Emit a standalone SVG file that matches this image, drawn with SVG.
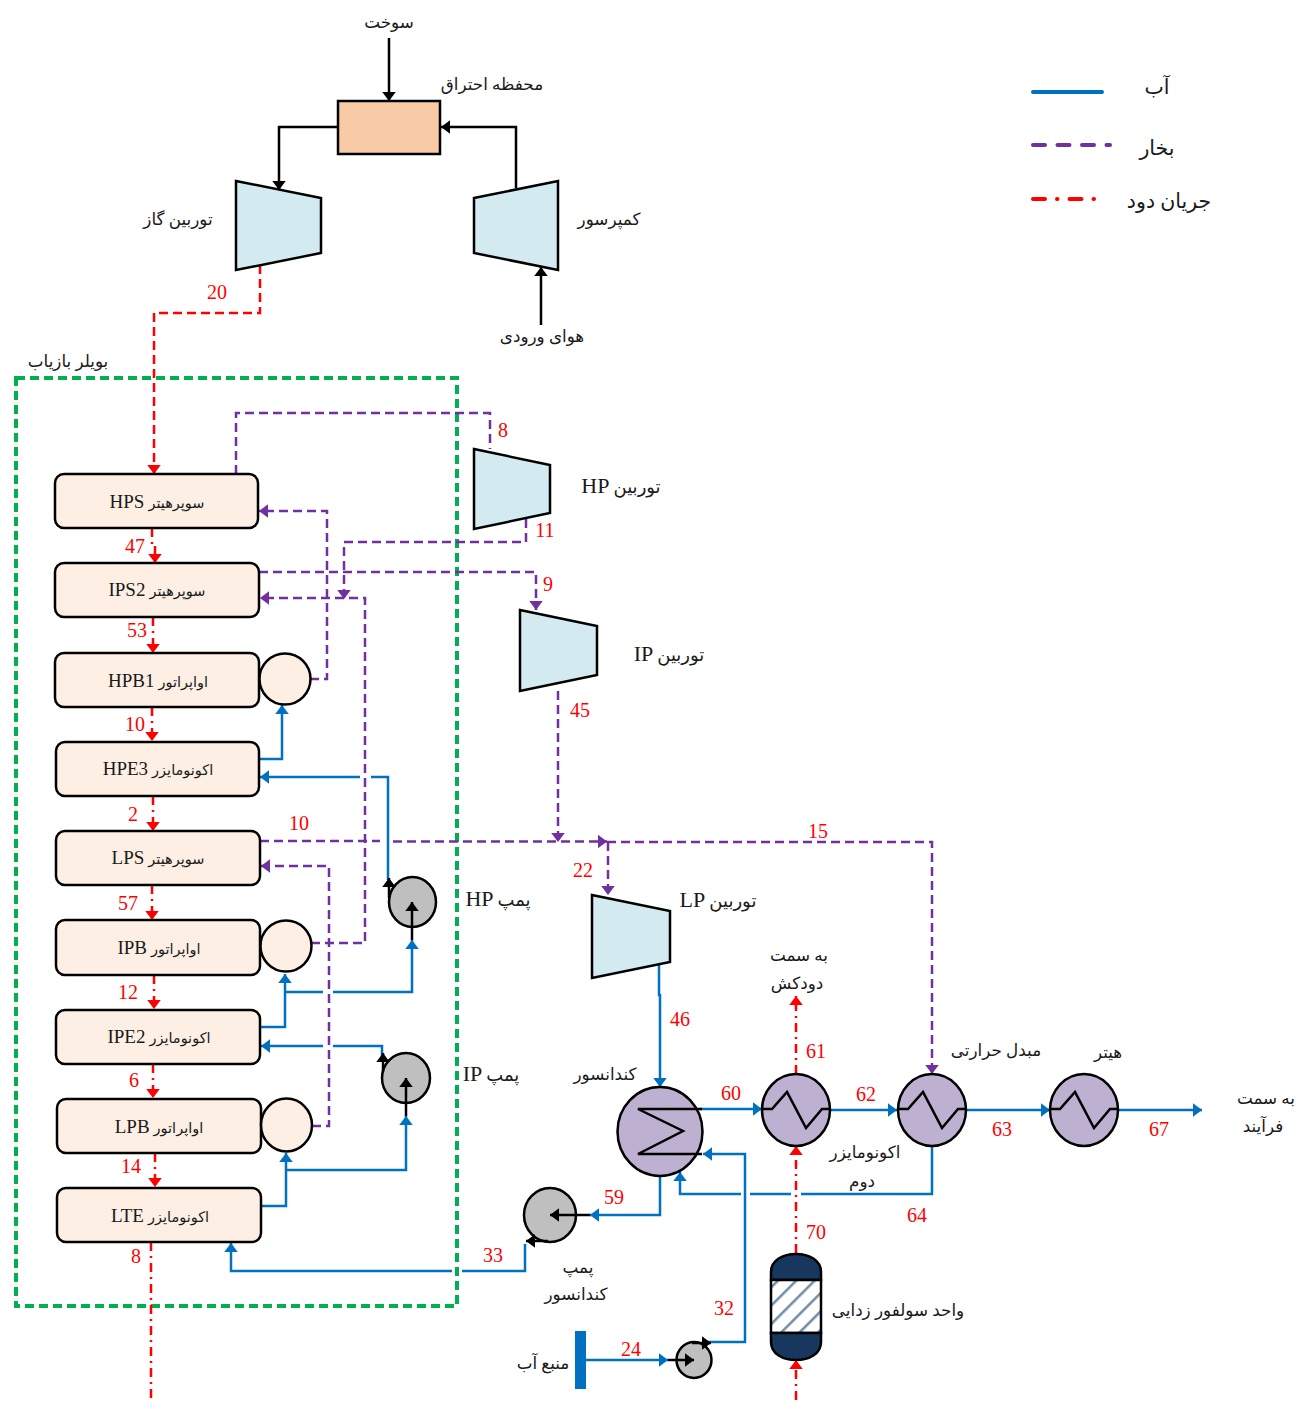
<svg xmlns="http://www.w3.org/2000/svg" width="1298" height="1403" viewBox="0 0 1298 1403">
<style>
text{font-family:"Liberation Serif","DejaVu Sans",serif;fill:#1a1a1a;text-anchor:middle}
.fa{font-size:16.800px}
.fb{font-size:14.500px}
.fc{font-size:18px}
.fl{font-size:20.500px}
.lat{font-size:22px}
.lb{font-size:19px}
.n{font-size:20px;fill:#ff0000}
.box{fill:#FDEFE4;stroke:#000;stroke-width:2.5}
.tur{fill:#D2EAF0;stroke:#000;stroke-width:2.5;stroke-linejoin:miter}
.hx{fill:#BEB0D0;stroke:#000;stroke-width:2.5}
.pump{fill:#BFBFBF;stroke:#000;stroke-width:2.5}
.coil{fill:none;stroke:#000;stroke-width:2.5}
.w{fill:none;stroke:#0070C0;stroke-width:2.5}
.s{fill:none;stroke:#7030A0;stroke-width:2.5;stroke-dasharray:9 5}
.r{fill:none;stroke:#ff0000;stroke-width:2.5;stroke-dasharray:9 5}
.f{fill:none;stroke:#ff0000;stroke-width:2.5;stroke-dasharray:9 5 2 5}
.k{fill:none;stroke:#000;stroke-width:2.5}
.dome{fill:#17375E;stroke:#000;stroke-width:2.5}
</style>
<defs>
<marker id="aw" viewBox="0 0 8 12" refX="8" refY="6" markerWidth="9" markerHeight="14" markerUnits="userSpaceOnUse" orient="auto"><path d="M0 0L8 6L0 12Z" fill="#0070C0"/></marker>
<marker id="as" viewBox="0 0 8 12" refX="8" refY="6" markerWidth="9" markerHeight="14" markerUnits="userSpaceOnUse" orient="auto"><path d="M0 0L8 6L0 12Z" fill="#7030A0"/></marker>
<marker id="ar" viewBox="0 0 8 12" refX="8" refY="6" markerWidth="9" markerHeight="14" markerUnits="userSpaceOnUse" orient="auto"><path d="M0 0L8 6L0 12Z" fill="#ff0000"/></marker>
<marker id="ak" viewBox="0 0 8 12" refX="8" refY="6" markerWidth="9" markerHeight="14" markerUnits="userSpaceOnUse" orient="auto"><path d="M0 0L8 6L0 12Z" fill="#000"/></marker>
<pattern id="hatch" width="13" height="13" patternUnits="userSpaceOnUse" patternTransform="rotate(-45 796 1306)"><rect width="13" height="13" fill="#fff"/><rect y="0" width="13" height="2.500" fill="#6F8CA8"/></pattern>
</defs>

<rect id="boiler-frame" x="16" y="378" width="441" height="928" fill="none" stroke="#00B050" stroke-width="4" stroke-dasharray="9 5"/>
<text class="fa" x="68" y="367">بویلر بازیاب</text>

<g id="connectors">
<path class="k" d="M389 38V101" marker-end="url(#ak)"/>
<path class="k" d="M338 127H279V190" marker-end="url(#ak)"/>
<path class="k" d="M516 188V127H441" marker-end="url(#ak)"/>
<path class="k" d="M541 325V267" marker-end="url(#ak)"/>
<path class="r" d="M260 265V313H154V474" marker-end="url(#ar)"/>
<path class="f" d="M152 528V545H155V563" marker-end="url(#ar)"/>
<path class="f" d="M153 617V653" marker-end="url(#ar)"/>
<path class="f" d="M152 707V741" marker-end="url(#ar)"/>
<path class="f" d="M153 796V831" marker-end="url(#ar)"/>
<path class="f" d="M152 885V920" marker-end="url(#ar)"/>
<path class="f" d="M154 975V1009" marker-end="url(#ar)"/>
<path class="f" d="M153 1064V1098" marker-end="url(#ar)"/>
<path class="f" d="M155 1153V1187" marker-end="url(#ar)"/>
<path class="f" d="M151 1242V1400"/>
<path class="s" d="M236 474V413H490V449"/>
<path class="s" d="M526 519V542H344V599" marker-end="url(#as)"/>
<path class="s" d="M259 572H536V610" marker-end="url(#as)"/>
<path class="s" d="M558 691V842" marker-end="url(#as)"/>
<path class="s" d="M310 679H327V511H259" marker-end="url(#as)"/>
<path class="s" d="M311 943H365V598H260" marker-end="url(#as)"/>
<path class="s" d="M312 1126H329V866H261" marker-end="url(#as)"/>
<path class="s" d="M260 841H380"/>
<path class="s" d="M393 841.500H607" marker-end="url(#as)"/>
<path class="s" d="M607 842H932V1074" marker-end="url(#as)"/>
<path class="s" d="M608 842V895" marker-end="url(#as)"/>
<path class="w" d="M259 759H282V705" marker-end="url(#aw)"/>
<path class="w" d="M388 880V777H371"/>
<path class="w" d="M360 777H260" marker-end="url(#aw)"/>
<path class="w" d="M261 1027H285V974" marker-end="url(#aw)"/>
<path class="w" d="M285 992H323"/>
<path class="w" d="M333 992H412V940" marker-end="url(#aw)"/>
<path class="w" d="M382 1060V1046H333"/>
<path class="w" d="M323 1046H261" marker-end="url(#aw)"/>
<path class="w" d="M261 1206H286V1153" marker-end="url(#aw)"/>
<path class="w" d="M286 1170H406V1116" marker-end="url(#aw)"/>
<path class="w" d="M525 1244V1271H462"/>
<path class="w" d="M452 1271H231V1243" marker-end="url(#aw)"/>
<path class="w" d="M660 1175V1215H590" marker-end="url(#aw)"/>
<path class="w" d="M659 965V995H660V1087" marker-end="url(#aw)"/>
<path class="w" d="M700 1109H762" marker-end="url(#aw)"/>
<path class="w" d="M830 1110H897" marker-end="url(#aw)"/>
<path class="w" d="M966 1110H1050" marker-end="url(#aw)"/>
<path class="w" d="M1118 1110H1202" marker-end="url(#aw)"/>
<path class="w" d="M932 1146V1194H801"/>
<path class="w" d="M791 1194H750"/>
<path class="w" d="M741 1194H680V1172" marker-end="url(#aw)"/>
<path class="w" d="M706 1342H745V1154H703" marker-end="url(#aw)"/>
<path class="w" d="M586 1360H668" marker-end="url(#aw)"/>
<path class="f" d="M796 1074V996" marker-end="url(#ar)"/>
<path class="f" d="M796 1253V1146" marker-end="url(#ar)"/>
<path class="f" d="M796 1400V1360" marker-end="url(#ar)"/>
</g>

<g id="combustor"><rect x="338" y="101" width="102" height="53" fill="#F8CBA6" stroke="#000" stroke-width="2.5"/><text class="fa" x="492" y="90">محفظه احتراق</text></g>
<text class="fa" x="389" y="28">سوخت</text>
<text class="fa" x="542" y="342">هوای ورودی</text>
<g id="gas-turbine"><polygon class="tur" points="236,181 321,198 321,253 236,270"/><text class="fa" x="178" y="225">توربین گاز</text></g>
<g id="compressor"><polygon class="tur" points="474,198 558,181 558,270 474,253"/><text class="fa" x="609" y="225">کمپرسور</text></g>
<g id="hp-turbine"><polygon class="tur" points="474,449 550,465 550,513 474,529"/><text x="621" y="493"><tspan class="lat">HP</tspan> <tspan class="fc">توربین</tspan></text></g>
<g id="ip-turbine"><polygon class="tur" points="520,610 597,626 597,675 520,691"/><text x="669" y="661"><tspan class="lat">IP</tspan> <tspan class="fc">توربین</tspan></text></g>
<g id="lp-turbine"><polygon class="tur" points="592,895 670,911 670,962 592,978"/><text x="718" y="907"><tspan class="lat">LP</tspan> <tspan class="fc">توربین</tspan></text></g>

<g id="hps"><rect class="box" x="55" y="474" width="203" height="54" rx="9"/><text x="157" y="508"><tspan class="lb">HPS</tspan> <tspan class="fb">سوپرهیتر</tspan></text></g>
<g id="ips2"><rect class="box" x="55" y="563" width="204" height="54" rx="9"/><text x="157" y="596"><tspan class="lb">IPS2</tspan> <tspan class="fb">سوپرهیتر</tspan></text></g>
<g id="hpb1"><rect class="box" x="55" y="653" width="204" height="54" rx="9"/><text x="158" y="687"><tspan class="lb">HPB1</tspan> <tspan class="fb">اواپراتور</tspan></text><circle class="box" cx="285" cy="679" r="25.500"/></g>
<g id="hpe3"><rect class="box" x="56" y="742" width="203" height="54" rx="9"/><text x="158" y="775"><tspan class="lb">HPE3</tspan> <tspan class="fb">اکونومایزر</tspan></text></g>
<g id="lps"><rect class="box" x="56" y="831" width="204" height="54" rx="9"/><text x="158" y="864"><tspan class="lb">LPS</tspan> <tspan class="fb">سوپرهیتر</tspan></text></g>
<g id="ipb"><rect class="box" x="56" y="920" width="204" height="55" rx="9"/><text x="159" y="954"><tspan class="lb">IPB</tspan> <tspan class="fb">اواپراتور</tspan></text><circle class="box" cx="286" cy="946" r="25.500"/></g>
<g id="ipe2"><rect class="box" x="56" y="1010" width="204" height="54" rx="9"/><text x="159" y="1043"><tspan class="lb">IPE2</tspan> <tspan class="fb">اکونومایزر</tspan></text></g>
<g id="lpb"><rect class="box" x="57" y="1099" width="204" height="54" rx="9"/><text x="159" y="1133"><tspan class="lb">LPB</tspan> <tspan class="fb">اواپراتور</tspan></text><ellipse class="box" cx="286.500" cy="1125" rx="25.500" ry="26.500"/></g>
<g id="lte"><rect class="box" x="57" y="1188" width="204" height="54" rx="9"/><text x="160" y="1222"><tspan class="lb">LTE</tspan> <tspan class="fb">اکونومایزر</tspan></text></g>

<g id="hp-pump"><ellipse class="pump" cx="412.500" cy="902" rx="23.500" ry="25"/><text x="498" y="906"><tspan class="lat">HP</tspan> <tspan class="fc">پمپ</tspan></text></g>
<g id="ip-pump"><ellipse class="pump" cx="406" cy="1078" rx="24" ry="25"/><text x="491" y="1081"><tspan class="lat">IP</tspan> <tspan class="fc">پمپ</tspan></text></g>
<g id="cond-pump"><ellipse class="pump" cx="550" cy="1215" rx="26" ry="27"/><text class="fa" x="578" y="1273">پمپ</text><text class="fa" x="576" y="1300">کندانسور</text></g>
<g id="source-pump"><ellipse class="pump" cx="694" cy="1360" rx="17.500" ry="18"/></g>
<g id="water-source"><rect x="575" y="1331" width="11" height="58" fill="#0070C0"/><text class="fa" x="543" y="1369">منبع آب</text></g>

<g id="condenser"><ellipse class="hx" cx="660" cy="1131.500" rx="42.500" ry="44.500"/><path class="coil" d="M702 1109H638L683 1131L638 1154H702"/><text class="fa" x="605" y="1080">کندانسور</text></g>
<g id="eco2"><ellipse class="hx" cx="796" cy="1110" rx="34" ry="36"/><path class="coil" d="M762 1109H772L787 1092L806 1128L822 1109H830"/><text class="fa" x="865" y="1158">اکونومایزر</text><text class="fa" x="862" y="1187">دوم</text></g>
<g id="hex"><ellipse class="hx" cx="932" cy="1110" rx="34" ry="36"/><path class="coil" d="M898 1109H908L923 1092L942 1128L958 1109H966"/><text class="fa" x="996" y="1056">مبدل حرارتی</text></g>
<g id="heater"><ellipse class="hx" cx="1084" cy="1110" rx="34" ry="36"/><path class="coil" d="M1050 1109H1060L1075 1092L1094 1128L1110 1109H1118"/><text class="fa" x="1108" y="1058">هیتر</text></g>
<g id="desox"><path class="dome" d="M771 1280V1272C771 1260 783 1254 796 1254C809 1254 821 1260 821 1272V1280Z"/><rect x="771" y="1280" width="50" height="53" fill="url(#hatch)" stroke="#000" stroke-width="2.500"/><path class="dome" d="M771 1333V1342C771 1354 783 1360 796 1360C809 1360 821 1354 821 1342V1333Z"/><text class="fa" x="898" y="1316">واحد سولفور زدایی</text></g>

<g id="pump-arrows">
<path class="k" d="M412 940V902" marker-end="url(#ak)"/>
<path class="k" d="M406 1116V1078" marker-end="url(#ak)"/>
<path class="k" d="M590 1215H550" marker-end="url(#ak)"/>
<path class="k" d="M668 1360H694" marker-end="url(#ak)"/>
<path class="k" d="M389 898V878" marker-end="url(#ak)"/>
<path class="k" d="M383 1072V1053" marker-end="url(#ak)"/>
<path class="k" d="M548 1241H526" marker-end="url(#ak)"/>
<path class="k" d="M692 1343H711" marker-end="url(#ak)"/>
</g>

<text class="fa" x="799" y="961">به سمت</text><text class="fa" x="797" y="989">دودکش</text>
<text class="fa" x="1266" y="1104">به سمت</text><text class="fa" x="1263" y="1132">فرآیند</text>

<g id="legend">
<line x1="1033" y1="92" x2="1102" y2="92" stroke="#0070C0" stroke-width="4" stroke-linecap="round"/>
<line x1="1033" y1="145" x2="1110" y2="145" stroke="#7030A0" stroke-width="4" stroke-linecap="round" stroke-dasharray="12 12.500"/>
<line x1="1033" y1="199" x2="1097" y2="199" stroke="#ff0000" stroke-width="4" stroke-linecap="round" stroke-dasharray="12 12 0.500 12"/>
<text class="fl" x="1157" y="94">آب</text><text class="fl" x="1157" y="155">بخار</text><text class="fl" x="1169" y="208">جریان دود</text>
</g>

<g id="numbers">
<text class="n" x="217" y="299">20</text><text class="n" x="135" y="553">47</text><text class="n" x="137" y="637">53</text><text class="n" x="135" y="731">10</text><text class="n" x="133" y="821">2</text><text class="n" x="299" y="830">10</text><text class="n" x="128" y="910">57</text><text class="n" x="128" y="999">12</text><text class="n" x="134" y="1087">6</text><text class="n" x="131" y="1173">14</text><text class="n" x="136" y="1263">8</text><text class="n" x="493" y="1262">33</text><text class="n" x="503" y="437">8</text><text class="n" x="545" y="537">11</text><text class="n" x="548" y="591">9</text><text class="n" x="580" y="717">45</text><text class="n" x="583" y="877">22</text><text class="n" x="818" y="838">15</text><text class="n" x="680" y="1026">46</text><text class="n" x="816" y="1058">61</text><text class="n" x="731" y="1100">60</text><text class="n" x="866" y="1101">62</text><text class="n" x="614" y="1204">59</text><text class="n" x="1002" y="1136">63</text><text class="n" x="1159" y="1136">67</text><text class="n" x="917" y="1222">64</text><text class="n" x="816" y="1239">70</text><text class="n" x="724" y="1315">32</text><text class="n" x="631" y="1356">24</text>
</g>
</svg>
